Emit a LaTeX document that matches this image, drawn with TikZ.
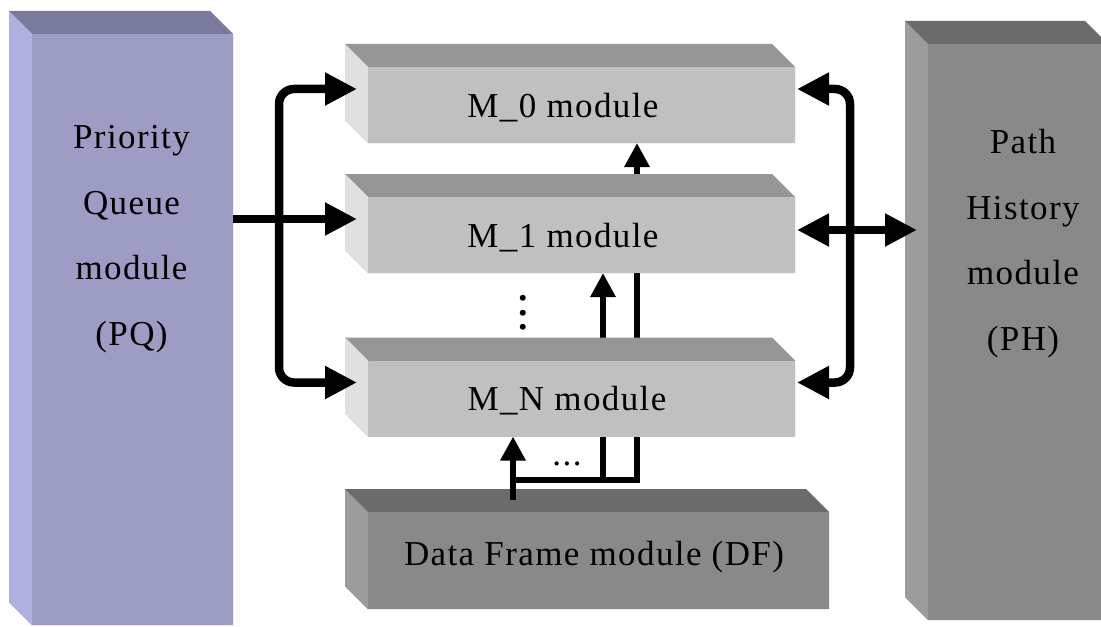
\documentclass[tikz,border=0pt]{standalone}
\usepackage{fontspec}
\setmainfont{Liberation Serif}[LetterSpace=4]
\usetikzlibrary{arrows.meta,calc,backgrounds}

\definecolor{pqfront}{HTML}{9C9CC4}
\definecolor{pqside}{HTML}{B0B0E0}
\definecolor{pqtop}{HTML}{7A7A9E}
\definecolor{modfront}{HTML}{C0C0C0}
\definecolor{modside}{HTML}{E0E0E0}
\definecolor{modtop}{HTML}{969696}
\definecolor{dkfront}{HTML}{898989}
\definecolor{dkside}{HTML}{9C9C9C}
\definecolor{dktop}{HTML}{6B6B6B}

% block faces: node, front colour, side colour, top colour
\newcommand{\boxfaces}[4]{%
  \fill[#4] (#1.south west) -- ++(-23,-23) -- ($(#1.north west)+(-23,-23)$)
    -- ($(#1.north east)+(-23,-23)$) -- (#1.north east) -- (#1.south east) -- cycle;
  \fill[#3] (#1.north west) -- ++(-23,-23) -- ($(#1.south west)+(-23,-23)$) -- (#1.south west) -- cycle;
  \fill[#2] (#1.north west) rectangle (#1.south east);}

\tikzset{
  face/.style={inner sep=0pt, outer sep=0pt},
  module/.style={face, minimum width=213.5pt, minimum height=38pt},
  txt/.style={font=\fontsize{17.5}{32.75}\selectfont, align=center, inner sep=0pt, anchor=base},
  bus/.style={line width=4.25pt},
  wire/.style={line width=3pt},
  BusTip/.tip={Triangle[length=16pt,width=15.5pt]},
  WireTip/.tip={Triangle[length=12pt,width=12pt]}
}

\begin{document}
\begin{tikzpicture}[x=0.5pt, y=-0.5pt]
  \useasboundingbox (0,0) rectangle (1101,626);
  \clip (0,0) rectangle (1101,626);

  % blocks
  \node[face, minimum width=100.5pt, minimum height=295.5pt] (pq) at (132.5,329.5) {};
  \node[module] (m0) at (581.5,105) {};
  \node[module] (m1) at (581.5,235) {};
  \node[module] (mN) at (581.5,398.5) {};
  \node[face, minimum width=230.5pt, minimum height=48.5pt] (df) at (598.5,560.5) {};
  \node[face, minimum width=90pt, minimum height=288pt] (ph) at (1018,332) {};

  \boxfaces{pq}{pqfront}{pqside}{pqtop}
  \boxfaces{m0}{modfront}{modside}{modtop}
  \boxfaces{m1}{modfront}{modside}{modtop}
  \boxfaces{mN}{modfront}{modside}{modtop}
  \boxfaces{df}{dkfront}{dkside}{dktop}
  \boxfaces{ph}{dkfront}{dkside}{dktop}

  % texts
  \node[txt] (pqtext) at (131.5,345) {Priority\\Queue\\module\\(PQ)};
  \node[txt] (m0text) at (563,118) {M\_0 module};
  \node[txt] (m1text) at (563,247) {M\_1 module};
  \node[txt] (mNtext) at (567,410) {M\_N module};
  \node[txt] (dftext) at (594,565) {Data Frame module (DF)};
  \node[txt] (phtext) at (1023,350) {Path\\History\\module\\(PH)};
  \node[txt, font=\fontsize{25}{30}\selectfont, rotate=90] (vdots) at (525,313) {...};
  \node[txt] (hdots) at (567,465) {...};

  % connector ends
  \coordinate (m0in) at ($(m0.north west)+(-11,22)$);
  \coordinate (m1in) at ($(m1.north west)+(-11,22)$);
  \coordinate (mNin) at ($(mN.north west)+(-11,22)$);
  \coordinate (lbus) at ($(pq.east |- m1in)+(46,0)$);
  \coordinate (m0out) at ($(m0.north east)+(2,22)$);
  \coordinate (m1out) at ($(m1.north east)+(2,33)$);
  \coordinate (mNout) at ($(mN.north east)+(2,22)$);
  \coordinate (rbus) at ($(m1out)+(53,0)$);
  \coordinate (phin) at ($(ph.west |- m1out)+(-11,0)$);
  \coordinate (m0up) at ($(m0.south)+(55.5,0)$);
  \coordinate (m1up) at ($(m1.south)+(21.5,0)$);
  \coordinate (split) at ($(mN.south)+(-68.5,43)$);
  \coordinate (dfout) at ($(df.north west)+(145,-12)$);

  % PQ side
  \draw[bus, -BusTip] (pq.east |- m1in) -- (m1in);
  \draw[bus, -BusTip, rounded corners=7.5pt] (lbus) |- (m0in);
  \draw[bus, -BusTip, rounded corners=7.5pt] (lbus) |- (mNin);

  % PH side
  \draw[bus, BusTip-BusTip] (m1out) -- (phin);
  \draw[bus, -BusTip, rounded corners=7.5pt] (rbus) |- (m0out);
  \draw[bus, -BusTip, rounded corners=7.5pt] (rbus) |- (mNout);

  % DF feeds
  \begin{scope}[on background layer]
    \draw[wire, -WireTip] (split) -| (m0up);
    \draw[wire, -WireTip] (split -| m1up) -- (m1up);
  \end{scope}
  \draw[wire, -WireTip] (dfout) -- (dfout |- mN.south);
\end{tikzpicture}
\end{document}
